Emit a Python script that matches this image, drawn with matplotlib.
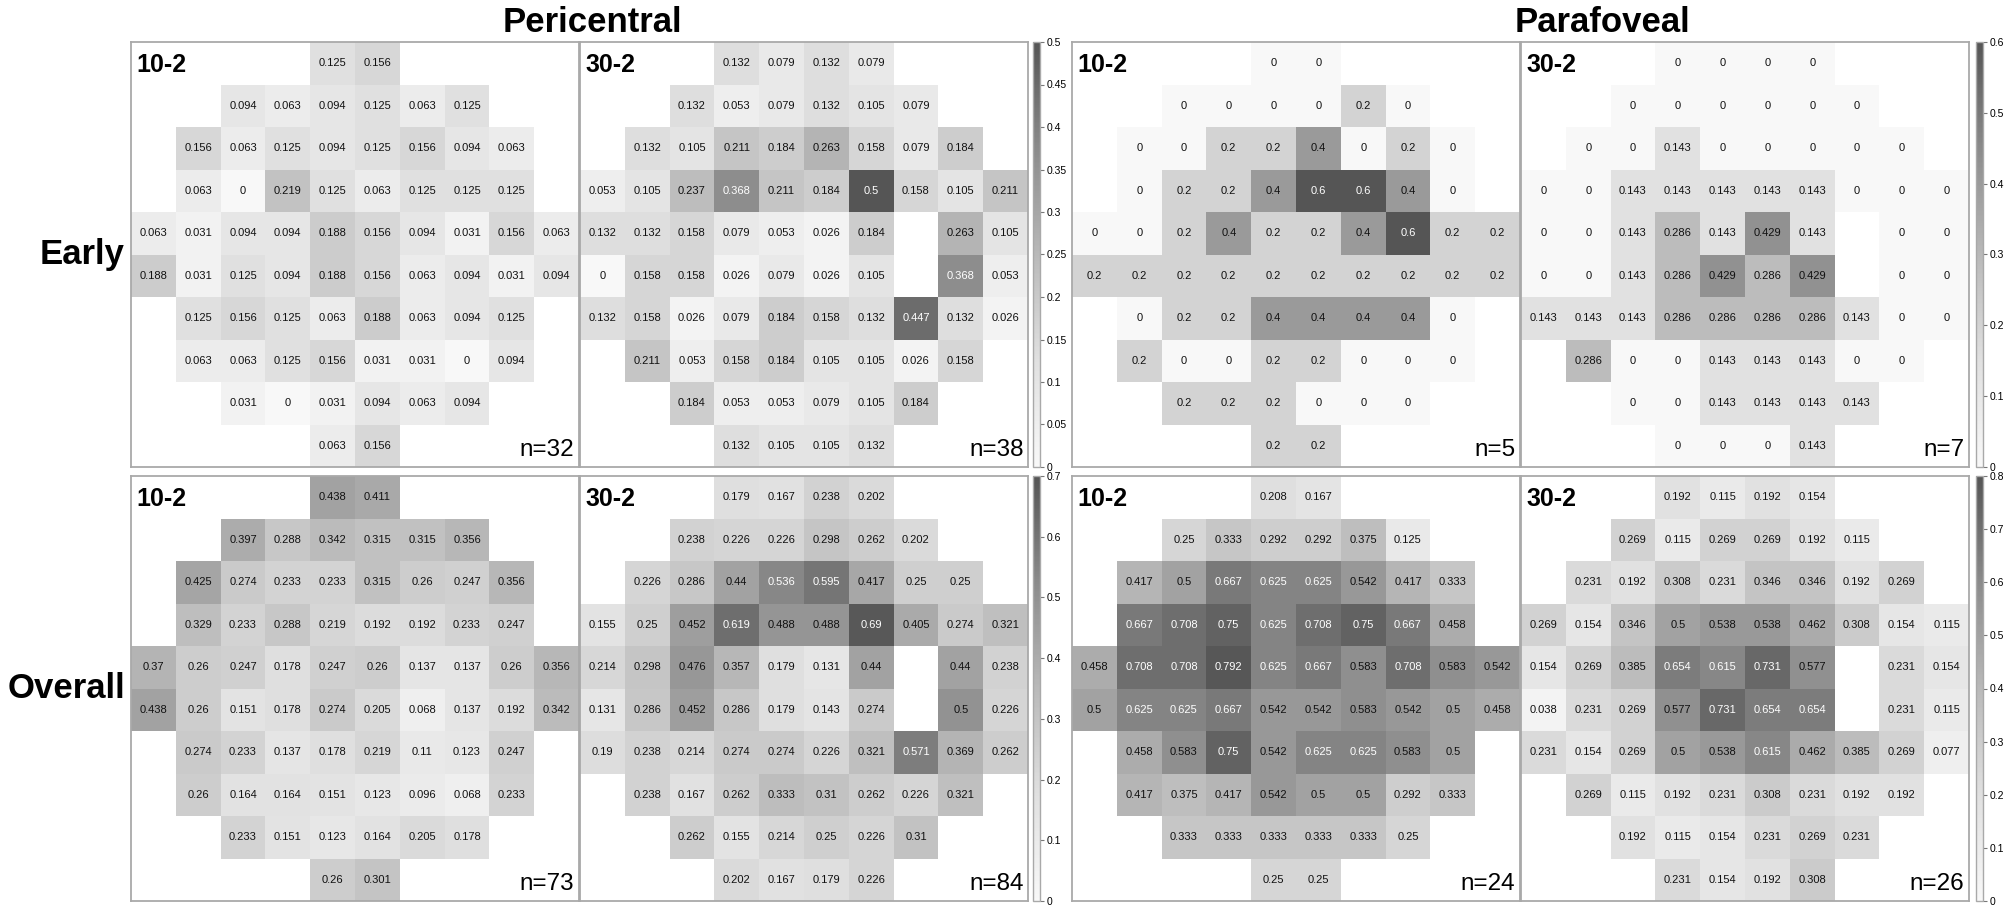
import numpy as np
import matplotlib
matplotlib.use('Agg')
import matplotlib.pyplot as plt
from matplotlib.colors import LinearSegmentedColormap
from matplotlib import font_manager

# ---------------- data (rows of each visual-field grid, None = blind spot) ----------------
early_peri_102 = [
    [0.125, 0.156],
    [0.094, 0.063, 0.094, 0.125, 0.063, 0.125],
    [0.156, 0.063, 0.125, 0.094, 0.125, 0.156, 0.094, 0.063],
    [0.063, 0, 0.219, 0.125, 0.063, 0.125, 0.125, 0.125],
    [0.063, 0.031, 0.094, 0.094, 0.188, 0.156, 0.094, 0.031, 0.156, 0.063],
    [0.188, 0.031, 0.125, 0.094, 0.188, 0.156, 0.063, 0.094, 0.031, 0.094],
    [0.125, 0.156, 0.125, 0.063, 0.188, 0.063, 0.094, 0.125],
    [0.063, 0.063, 0.125, 0.156, 0.031, 0.031, 0, 0.094],
    [0.031, 0, 0.031, 0.094, 0.063, 0.094],
    [0.063, 0.156],
]
early_peri_302 = [
    [0.132, 0.079, 0.132, 0.079],
    [0.132, 0.053, 0.079, 0.132, 0.105, 0.079],
    [0.132, 0.105, 0.211, 0.184, 0.263, 0.158, 0.079, 0.184],
    [0.053, 0.105, 0.237, 0.368, 0.211, 0.184, 0.5, 0.158, 0.105, 0.211],
    [0.132, 0.132, 0.158, 0.079, 0.053, 0.026, 0.184, None, 0.263, 0.105],
    [0, 0.158, 0.158, 0.026, 0.079, 0.026, 0.105, None, 0.368, 0.053],
    [0.132, 0.158, 0.026, 0.079, 0.184, 0.158, 0.132, 0.447, 0.132, 0.026],
    [0.211, 0.053, 0.158, 0.184, 0.105, 0.105, 0.026, 0.158],
    [0.184, 0.053, 0.053, 0.079, 0.105, 0.184],
    [0.132, 0.105, 0.105, 0.132],
]
early_para_102 = [
    [0, 0],
    [0, 0, 0, 0, 0.2, 0],
    [0, 0, 0.2, 0.2, 0.4, 0, 0.2, 0],
    [0, 0.2, 0.2, 0.4, 0.6, 0.6, 0.4, 0],
    [0, 0, 0.2, 0.4, 0.2, 0.2, 0.4, 0.6, 0.2, 0.2],
    [0.2, 0.2, 0.2, 0.2, 0.2, 0.2, 0.2, 0.2, 0.2, 0.2],
    [0, 0.2, 0.2, 0.4, 0.4, 0.4, 0.4, 0],
    [0.2, 0, 0, 0.2, 0.2, 0, 0, 0],
    [0.2, 0.2, 0.2, 0, 0, 0],
    [0.2, 0.2],
]
early_para_302 = [
    [0, 0, 0, 0],
    [0, 0, 0, 0, 0, 0],
    [0, 0, 0.143, 0, 0, 0, 0, 0],
    [0, 0, 0.143, 0.143, 0.143, 0.143, 0.143, 0, 0, 0],
    [0, 0, 0.143, 0.286, 0.143, 0.429, 0.143, None, 0, 0],
    [0, 0, 0.143, 0.286, 0.429, 0.286, 0.429, None, 0, 0],
    [0.143, 0.143, 0.143, 0.286, 0.286, 0.286, 0.286, 0.143, 0, 0],
    [0.286, 0, 0, 0.143, 0.143, 0.143, 0, 0],
    [0, 0, 0.143, 0.143, 0.143, 0.143],
    [0, 0, 0, 0.143],
]
overall_peri_102 = [
    [0.438, 0.411],
    [0.397, 0.288, 0.342, 0.315, 0.315, 0.356],
    [0.425, 0.274, 0.233, 0.233, 0.315, 0.26, 0.247, 0.356],
    [0.329, 0.233, 0.288, 0.219, 0.192, 0.192, 0.233, 0.247],
    [0.37, 0.26, 0.247, 0.178, 0.247, 0.26, 0.137, 0.137, 0.26, 0.356],
    [0.438, 0.26, 0.151, 0.178, 0.274, 0.205, 0.068, 0.137, 0.192, 0.342],
    [0.274, 0.233, 0.137, 0.178, 0.219, 0.11, 0.123, 0.247],
    [0.26, 0.164, 0.164, 0.151, 0.123, 0.096, 0.068, 0.233],
    [0.233, 0.151, 0.123, 0.164, 0.205, 0.178],
    [0.26, 0.301],
]
overall_peri_302 = [
    [0.179, 0.167, 0.238, 0.202],
    [0.238, 0.226, 0.226, 0.298, 0.262, 0.202],
    [0.226, 0.286, 0.44, 0.536, 0.595, 0.417, 0.25, 0.25],
    [0.155, 0.25, 0.452, 0.619, 0.488, 0.488, 0.69, 0.405, 0.274, 0.321],
    [0.214, 0.298, 0.476, 0.357, 0.179, 0.131, 0.44, None, 0.44, 0.238],
    [0.131, 0.286, 0.452, 0.286, 0.179, 0.143, 0.274, None, 0.5, 0.226],
    [0.19, 0.238, 0.214, 0.274, 0.274, 0.226, 0.321, 0.571, 0.369, 0.262],
    [0.238, 0.167, 0.262, 0.333, 0.31, 0.262, 0.226, 0.321],
    [0.262, 0.155, 0.214, 0.25, 0.226, 0.31],
    [0.202, 0.167, 0.179, 0.226],
]
overall_para_102 = [
    [0.208, 0.167],
    [0.25, 0.333, 0.292, 0.292, 0.375, 0.125],
    [0.417, 0.5, 0.667, 0.625, 0.625, 0.542, 0.417, 0.333],
    [0.667, 0.708, 0.75, 0.625, 0.708, 0.75, 0.667, 0.458],
    [0.458, 0.708, 0.708, 0.792, 0.625, 0.667, 0.583, 0.708, 0.583, 0.542],
    [0.5, 0.625, 0.625, 0.667, 0.542, 0.542, 0.583, 0.542, 0.5, 0.458],
    [0.458, 0.583, 0.75, 0.542, 0.625, 0.625, 0.583, 0.5],
    [0.417, 0.375, 0.417, 0.542, 0.5, 0.5, 0.292, 0.333],
    [0.333, 0.333, 0.333, 0.333, 0.333, 0.25],
    [0.25, 0.25],
]
overall_para_302 = [
    [0.192, 0.115, 0.192, 0.154],
    [0.269, 0.115, 0.269, 0.269, 0.192, 0.115],
    [0.231, 0.192, 0.308, 0.231, 0.346, 0.346, 0.192, 0.269],
    [0.269, 0.154, 0.346, 0.5, 0.538, 0.538, 0.462, 0.308, 0.154, 0.115],
    [0.154, 0.269, 0.385, 0.654, 0.615, 0.731, 0.577, None, 0.231, 0.154],
    [0.038, 0.231, 0.269, 0.577, 0.731, 0.654, 0.654, None, 0.231, 0.115],
    [0.231, 0.154, 0.269, 0.5, 0.538, 0.615, 0.462, 0.385, 0.269, 0.077],
    [0.269, 0.115, 0.192, 0.231, 0.308, 0.231, 0.192, 0.192],
    [0.192, 0.115, 0.154, 0.231, 0.269, 0.231],
    [0.231, 0.154, 0.192, 0.308],
]

row_labels = ["Early", "Overall"]
col_titles = ["Pericentral", "Parafoveal"]
pattern_labels = ["10-2", "30-2"]
sample_sizes = [[32, 38, 5, 7], [73, 84, 24, 26]]
colorbar_max = [[0.5, 0.6], [0.7, 0.8]]
colorbar_steps = [[0.05, 0.1], [0.1, 0.1]]

grids = [[early_peri_102, early_peri_302, early_para_102, early_para_302],
         [overall_peri_102, overall_peri_302, overall_para_102, overall_para_302]]

# ---------------- styling ----------------
W, H = 2006, 908
fig = plt.figure(figsize=(W / 100, H / 100), dpi=100)

cmap = LinearSegmentedColormap.from_list(
    "fieldgray",
    [(0.0, "#f8f8f8"), (0.25, "#e0e0e0"), (0.5, "#b9b9b9"), (0.75, "#8b8b8b"), (1.0, "#555555")])

avail = {f.name for f in font_manager.fontManager.ttflist}
has_narrow = "Liberation Sans Narrow" in avail
cell_family = ["Liberation Sans Narrow"] if has_narrow else ["Liberation Sans"]
cell_size = 9.2 if has_narrow else 8.0
main_family = ["Liberation Sans", "DejaVu Sans"]
plt.rcParams['font.family'] = main_family

frame_col = "#a9a9a9"


def to_grid(rows):
    g = np.full((10, 10), np.nan)
    for r, vals in enumerate(rows):
        s = (10 - len(vals)) // 2
        for k, v in enumerate(vals):
            if v is not None:
                g[r, s + k] = v
    return g


def fmt(v):
    return f"{v:.3f}".rstrip('0').rstrip('.') if v != 0 else "0"


panel_x = [131, 580, 1072, 1521]
panel_w = 448
row_y = [42, 476]
panel_h = 425
cbar_x = [1033, 1976]
cbar_w = 7

for ri in range(2):
    for ci in range(4):
        x0, y0 = panel_x[ci], row_y[ri]
        ax = fig.add_axes([x0 / W, 1 - (y0 + panel_h) / H, panel_w / W, panel_h / H])
        g = to_grid(grids[ri][ci])
        vmax = colorbar_max[ri][ci // 2]
        mesh = ax.pcolormesh(np.arange(11), np.arange(11), np.ma.masked_invalid(g),
                             cmap=cmap, vmin=0, vmax=vmax, shading='flat')
        ax.set_xlim(0, 10)
        ax.set_ylim(10, 0)
        ax.set_xticks([])
        ax.set_yticks([])
        for sp in ax.spines.values():
            sp.set_color(frame_col)
            sp.set_linewidth(1.3)
        for r in range(10):
            for c in range(10):
                v = g[r, c]
                if np.isnan(v):
                    continue
                col = "white" if v / vmax > 0.732 else "#111111"
                ax.text(c + 0.5, r + 0.5, fmt(v), ha='center', va='center',
                        fontsize=cell_size, family=cell_family, color=col)
        ax.text(0.012, 0.975, pattern_labels[ci % 2], transform=ax.transAxes,
                ha='left', va='top', fontsize=18, fontweight='bold', color='black')
        ax.text(0.99, 0.025, f"n={sample_sizes[ri][ci]}", transform=ax.transAxes,
                ha='right', va='baseline', fontsize=17.5, color='black')

        if ci % 2 == 1:
            cx = cbar_x[ci // 2]
            cax = fig.add_axes([cx / W, 1 - (y0 + panel_h) / H, cbar_w / W, panel_h / H])
            step = colorbar_steps[ri][ci // 2]
            ticks = np.round(np.arange(0, vmax + step / 2, step), 3)
            cb = fig.colorbar(mesh, cax=cax, ticks=ticks)
            cb.ax.set_yticklabels([f"{t:g}" for t in ticks])
            cb.outline.set_edgecolor(frame_col)
            cb.outline.set_linewidth(1.0)
            cb.ax.tick_params(labelsize=7.5, length=3, width=0.8, color="#777777", pad=1.5)

    # row label
    fig.text(125 / W, 1 - (row_y[ri] + panel_h / 2) / H, row_labels[ri],
             ha='right', va='center', fontsize=25, fontweight='bold')

title_x = [592, 1603]
for k in range(2):
    fig.text(title_x[k] / W, 1 - 22 / H, col_titles[k], ha='center', va='center',
             fontsize=25, fontweight='bold')

fig.savefig("out.png", dpi=100, facecolor='white')
